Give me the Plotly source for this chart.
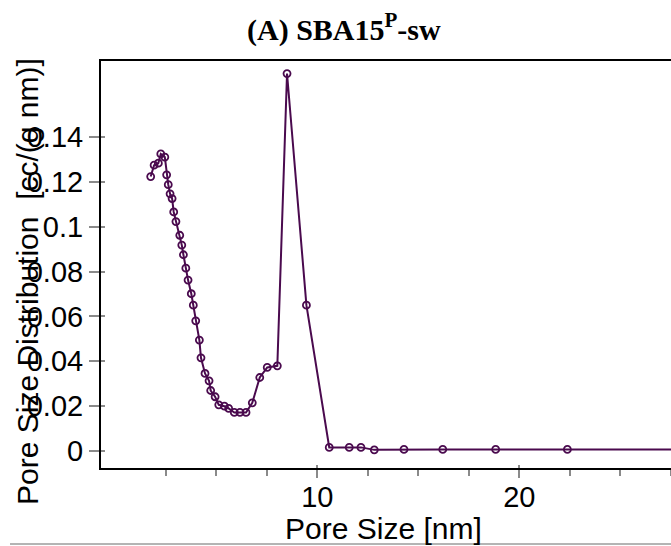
import plotly.graph_objects as go

# Data
pore_size = [1.75, 1.92, 2.13, 2.25, 2.45, 2.54, 2.62, 2.71, 2.81, 2.89,
             3.00, 3.19, 3.29, 3.37, 3.49, 3.60, 3.76, 3.86, 3.98, 4.16,
             4.24, 4.44, 4.64, 4.72, 4.94, 5.12, 5.40, 5.61, 5.89, 6.17,
             6.47, 6.78, 7.15, 7.52, 8.02, 8.50, 9.46, 10.59, 11.58, 12.16,
             12.82, 14.29, 16.21, 18.83, 22.38, 30.0]
psd = [0.1224, 0.1275, 0.1284, 0.1325, 0.1311, 0.1232, 0.1188, 0.1147, 0.1126, 0.1066,
       0.1023, 0.0962, 0.0918, 0.0875, 0.0815, 0.0762, 0.0701, 0.0650, 0.0580, 0.0494,
       0.0415, 0.0345, 0.0312, 0.0269, 0.0241, 0.0205, 0.0199, 0.0189, 0.0171, 0.0171,
       0.0171, 0.0214, 0.0327, 0.0372, 0.0379, 0.1684, 0.0650, 0.0015, 0.0015, 0.0015,
       0.0004, 0.0006, 0.0006, 0.0006, 0.0006, 0.0006]

x_major_ticks = [10, 20]
x_minor_ticks = [2.5, 5, 7.5, 12.5, 15, 17.5, 22.5, 25, 27.5]
y_ticks = [0, 0.02, 0.04, 0.06, 0.08, 0.1, 0.12, 0.14]
y_tick_labels = ["0", "0.02", "0.04", "0.06", "0.08", "0.1", "0.12", "0.14"]

title_text = "(A) SBA15<sup>P</sup>-sw"
x_title = "Pore Size [nm]"
y_title = "Pore Size Distribution  [cc/(g nm)]"

W, H = 671, 546
L, R, T, B = 101, 0, 61, 78
PW, PH = W - L - R, H - T - B
color = "#4a0a4e"
sans = "Liberation Sans, Arial, sans-serif"
tick_grey = "#8a8a8a"
x_range = [-0.71, 27.51]
y_range = [-0.0077, 0.1740]

fig = go.Figure()
fig.add_trace(go.Scatter(
    x=pore_size, y=psd, mode="lines+markers",
    line=dict(color=color, width=2),
    marker=dict(symbol="circle-open", size=7, color=color, line=dict(width=1.8, color=color)),
    cliponaxis=True, showlegend=False,
))

fig.update_layout(
    width=W, height=H,
    margin=dict(l=L, r=R, t=T, b=B, pad=0),
    paper_bgcolor="white", plot_bgcolor="white",
    font=dict(family=sans, color="black"),
    xaxis=dict(
        range=x_range, showgrid=False, zeroline=False,
        showline=True, linecolor="black", linewidth=2, mirror=True,
        tickmode="array", tickvals=x_major_ticks, ticktext=[str(v) for v in x_major_ticks],
        ticks="outside", ticklen=8, tickwidth=2, tickcolor=tick_grey,
        ticklabelstandoff=-6,
        tickfont=dict(size=29, family=sans, color="black"),
        minor=dict(tickmode="array", tickvals=x_minor_ticks, ticks="outside",
                   ticklen=6, tickwidth=2, tickcolor=tick_grey, showgrid=False),
    ),
    xaxis2=dict(
        range=x_range, overlaying="x", side="bottom", showgrid=False, zeroline=False,
        showline=False, tickmode="array", tickvals=x_major_ticks,
        ticks="inside", ticklen=3, tickwidth=2, tickcolor=tick_grey, showticklabels=False,
    ),
    yaxis=dict(
        range=y_range, showgrid=False, zeroline=False,
        showline=True, linecolor="black", linewidth=2,
        tickmode="array", tickvals=y_ticks, ticktext=y_tick_labels,
        ticks="outside", ticklen=10, tickwidth=2, tickcolor=tick_grey,
        tickfont=dict(size=29, family=sans, color="black"),
    ),
    yaxis2=dict(
        range=y_range, overlaying="y", side="left", showgrid=False, zeroline=False,
        showline=False, tickmode="array", tickvals=y_ticks,
        ticks="inside", ticklen=4, tickwidth=2, tickcolor=tick_grey, showticklabels=False,
    ),
    annotations=[
        dict(text="<b>" + title_text + "</b>", xref="paper", yref="paper",
             x=(344 - L) / PW, y=1 + (T - 27) / PH,
             xanchor="center", yanchor="middle", showarrow=False,
             font=dict(family="Liberation Serif, Times New Roman, serif", size=30, color="black")),
        dict(text=x_title, xref="paper", yref="paper",
             x=(383 - L) / PW, y=-(528 - (H - B)) / PH,
             xanchor="center", yanchor="middle", showarrow=False,
             font=dict(family=sans, size=30, color="black")),
        dict(text=y_title, xref="paper", yref="paper", textangle=-90,
             x=(27 - L) / PW, y=((H - B) - 282) / PH,
             xanchor="center", yanchor="middle", showarrow=False,
             font=dict(family=sans, size=30, color="black")),
    ],
    shapes=[
        dict(type="line", xref="paper", yref="paper",
             x0=(10 - L) / PW, x1=1.0,
             y0=-(544 - (H - B)) / PH, y1=-(544 - (H - B)) / PH,
             line=dict(color="#b4b4b4", width=2)),
    ],
)
# invisible helper trace so the overlay axes (crossing tick stubs) are drawn
fig.add_trace(go.Scatter(x=[None], y=[None], xaxis="x2", yaxis="y2",
                         showlegend=False, hoverinfo="skip"))

fig.write_html("out.html")
